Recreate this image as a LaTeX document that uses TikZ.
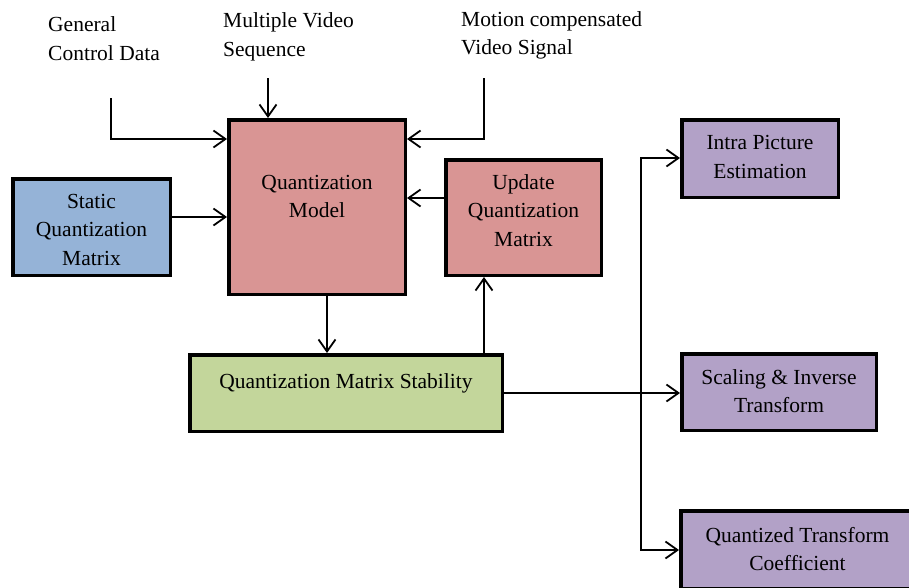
\documentclass[tikz,border=0pt]{standalone}
\usepackage{fontspec}
\setmainfont{Liberation Serif}
\newfontfamily\lserif{Liberation Serif}
\usetikzlibrary{arrows.meta}
\definecolor{boxblue}{HTML}{95B3D7}
\definecolor{boxpink}{HTML}{D99594}
\definecolor{boxgreen}{HTML}{C3D69B}
\definecolor{boxpurple}{HTML}{B2A1C7}
\begin{document}
\begin{tikzpicture}[x=1pt,y=-1pt,
  box/.style={draw=black, line width=3.5pt, inner sep=0pt},
  lbl/.style={font=\lserif\fontsize{21.5}{28.5}\selectfont, align=center, inner sep=0pt},
  toplbl/.style={font=\lserif\fontsize{21.5}{28.5}\selectfont, align=left, inner sep=0pt, anchor=west},
  arr/.style={line width=1.8pt, -{Straight Barb[length=12pt,width=17pt]}},
  ln/.style={line width=1.8pt}]
\useasboundingbox (0,0) rectangle (909,587);
\clip (0,0) rectangle (909,587);

% boxes
\node[box, fill=boxblue, minimum width=157.5pt, minimum height=96.5pt] (static) at (91.5,227) {};
\node[box, fill=boxpink, minimum width=176.5pt, minimum height=174.5pt] (qm) at (317,207) {};
\node[box, fill=boxpink, minimum width=155.5pt, minimum height=115.5pt] (upd) at (523.5,217.5) {};
\node[box, fill=boxgreen, minimum width=312.5pt, minimum height=76.5pt] (stab) at (346,393) {};
\node[box, fill=boxpurple, minimum width=156.5pt, minimum height=77.5pt] (intra) at (760,158.5) {};
\node[box, fill=boxpurple, minimum width=194.5pt, minimum height=76.5pt] (scal) at (779,392) {};
\node[box, fill=boxpurple, minimum width=233.5pt, minimum height=77.5pt] (quant) at (797.5,549.5) {};

% box texts
\node[lbl] (tstatic) at (91.5,229.5) {Static\\Quantization\\Matrix};
\node[lbl] (tqm) at (317,196.5) {Quantization\\Model};
\node[lbl] (tupd) at (523.5,210.5) {Update\\Quantization\\Matrix};
\node[lbl] (tstab) at (346,383) {Quantization Matrix Stability};
\node[lbl] (tintra) at (760,157) {Intra Picture\\Estimation};
\node[lbl] (tscal) at (779,391) {Scaling \& Inverse\\Transform};
\node[lbl] (tquant) at (797.5,549) {Quantized Transform\\Coefficient};

% top labels
\node[toplbl] (gcd) at (48,38.5) {General\\Control Data};
\node[toplbl] (mvs) at (223,37) {Multiple Video\\Sequence};
\node[toplbl] (mcv) at (461,35.5) {Motion compensated\\Video Signal};

% helper coordinates
\coordinate (g0) at (111,98);
\coordinate (g1) at (111,139);
\coordinate (m0) at (268,78);
\coordinate (v0) at (484,78);
\coordinate (v1) at (484,139);
\coordinate (s1) at (0,217);
\coordinate (u1) at (0,198);
\coordinate (d1) at (327,0);
\coordinate (e1) at (484,0);
\coordinate (j) at (641,393);
\coordinate (ji) at (641,158);
\coordinate (jq) at (641,550);

% connectors
\draw[arr] (g0) -- (g1) -- (g1 -| qm.west);
\draw[arr] (m0) -- (m0 |- qm.north);
\draw[arr] (v0) -- (v1) -- (v1 -| qm.east);
\draw[arr] (static.east |- s1) -- (qm.west |- s1);
\draw[arr] (upd.west |- u1) -- (qm.east |- u1);
\draw[arr] (qm.south -| d1) -- (stab.north -| d1);
\draw[arr] (stab.north -| e1) -- (upd.south -| e1);
\draw[arr] (stab.east) -- (stab.east -| scal.west);
\draw[arr] (j) -- (ji) -- (ji -| intra.west);
\draw[arr] (j) -- (jq) -- (jq -| quant.west);
\end{tikzpicture}
\end{document}
